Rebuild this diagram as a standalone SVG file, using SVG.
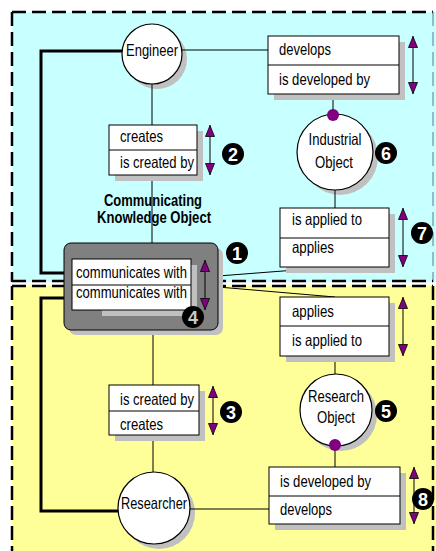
<svg xmlns="http://www.w3.org/2000/svg" width="436" height="551" viewBox="0 0 436 551">
  <style>
    .lbl{font-family:"Liberation Sans Narrow","Liberation Sans",Arial,sans-serif;font-size:16.5px;fill:#000}
    .bold{font-weight:bold}
    .box{fill:#fff;stroke:#000;stroke-width:1}
    .shd{fill:#c0c0c0}
    .div{stroke:#000;stroke-width:1}
    .circ{fill:#fff;stroke:#000;stroke-width:1.2}
    .con{fill:none;stroke:#000;stroke-width:1}
    .thick{fill:none;stroke:#000;stroke-width:3}
    .arr{stroke:#000;stroke-width:1;marker-start:url(#ah);marker-end:url(#ah)}
    .dot{fill:#800080}
    .numc{fill:#000}
    .numt{font-family:"Liberation Sans",Arial,sans-serif;font-size:18px;font-weight:bold;fill:#fff;text-anchor:middle}
    .dash{fill:none;stroke:#000;stroke-width:2.5;stroke-dasharray:14 6}
  </style>
  <defs>
    <marker id="ah" viewBox="0 0 12 10" refX="12" refY="5" markerWidth="12" markerHeight="10" markerUnits="userSpaceOnUse" orient="auto-start-reverse">
      <path d="M0.5,0.5 L11.5,5 L0.5,9.5 Z" fill="#800080" stroke="#000" stroke-width="0.8"/>
    </marker>
  </defs>

  <!-- background regions -->
  <g id="regions">
    <rect x="12" y="12" width="424" height="270" fill="#c8ffff"/>
    <rect x="12" y="286" width="424" height="265" fill="#ffff99"/>
    <line class="dash" x1="12" y1="12" x2="433" y2="12"/>
    <line class="dash" x1="12" y1="12" x2="12" y2="282"/>
    <line x1="433" y1="12" x2="433" y2="282" stroke="#607890" stroke-width="1" stroke-dasharray="14 6"/>
    <line class="dash" x1="12" y1="281" x2="433" y2="281"/>
    <line class="dash" x1="12" y1="286" x2="433" y2="286"/>
    <line class="dash" x1="12" y1="286" x2="12" y2="551"/>
    <line class="dash" x1="433" y1="286" x2="433" y2="551" stroke-width="3"/>
  </g>

  <!-- shadows -->
  <g id="shadows">
    <circle class="shd" cx="157" cy="59" r="30"/>
    <circle class="shd" cx="340" cy="157" r="38"/>
    <circle class="shd" cx="341" cy="415" r="36"/>
    <circle class="shd" cx="159" cy="513" r="36"/>
  </g>

  <!-- connectors -->
  <g id="connectors">
    <path class="thick" d="M72,273 H41 V51 H122"/>
    <path class="thick" d="M72,298 H41 V511 H118"/>
    <path class="con" d="M182,50 H268"/>
    <path class="con" d="M152,83 V125"/>
    <path class="con" d="M152,175 V243"/>
    <path class="con" d="M153,330 V385"/>
    <path class="con" d="M153,435 V472"/>
    <path class="con" d="M190,509 H269"/>
    <path class="con" d="M333,94 V115"/>
    <path class="con" d="M335,190 V208"/>
    <path class="con" d="M335,267 L218,276"/>
    <path class="con" d="M218,287 L335,297"/>
    <path class="con" d="M335,356 V374"/>
    <path class="con" d="M335,445 V467"/>
  </g>

  <!-- Engineer -->
  <g id="engineer">
    <circle class="circ" cx="152" cy="54" r="30"/>
    <text class="lbl" x="152" y="56" text-anchor="middle" textLength="52" lengthAdjust="spacingAndGlyphs">Engineer</text>
  </g>

  <!-- develops (top) -->
  <g id="develops-top">
    <rect class="shd" x="274" y="42" width="131" height="58"/>
    <rect class="box" x="268" y="36" width="131" height="58"/>
    <line class="div" x1="268" y1="65" x2="399" y2="65"/>
    <text class="lbl" x="279" y="55" textLength="52" lengthAdjust="spacingAndGlyphs">develops</text>
    <text class="lbl" x="279" y="85" textLength="91" lengthAdjust="spacingAndGlyphs">is developed by</text>
    <line class="arr" x1="413" y1="36" x2="413" y2="94"/>
  </g>

  <!-- creates (top) -->
  <g id="creates-top">
    <rect class="shd" x="115" y="131" width="88" height="50"/>
    <rect class="box" x="109" y="125" width="88" height="50"/>
    <line class="div" x1="109" y1="150" x2="197" y2="150"/>
    <text class="lbl" x="120" y="142" textLength="43" lengthAdjust="spacingAndGlyphs">creates</text>
    <text class="lbl" x="120" y="168" textLength="74" lengthAdjust="spacingAndGlyphs">is created by</text>
    <line class="arr" x1="210" y1="125" x2="210" y2="175"/>
  </g>

  <!-- Industrial Object -->
  <g id="industrial-object">
    <circle class="circ" cx="335" cy="152" r="38"/>
    <circle class="dot" cx="333" cy="115" r="6"/>
    <text class="lbl" x="335" y="145" text-anchor="middle" textLength="53" lengthAdjust="spacingAndGlyphs">Industrial</text>
    <text class="lbl" x="334" y="168" text-anchor="middle" textLength="38" lengthAdjust="spacingAndGlyphs">Object</text>
  </g>

  <!-- applied (top) -->
  <g id="applied-top">
    <rect class="shd" x="286" y="214" width="109" height="59"/>
    <rect class="box" x="280" y="208" width="109" height="59"/>
    <line class="div" x1="280" y1="238" x2="389" y2="238"/>
    <text class="lbl" x="292" y="225" textLength="70" lengthAdjust="spacingAndGlyphs">is applied to</text>
    <text class="lbl" x="292" y="253" textLength="42" lengthAdjust="spacingAndGlyphs">applies</text>
    <line class="arr" x1="403" y1="208" x2="403" y2="267"/>
  </g>

  <!-- Communicating Knowledge Object -->
  <g id="cko">
    <text class="lbl bold" x="153" y="206" text-anchor="middle" textLength="98" lengthAdjust="spacingAndGlyphs">Communicating</text>
    <text class="lbl bold" x="154" y="223" text-anchor="middle" textLength="114" lengthAdjust="spacingAndGlyphs">Knowledge Object</text>
    <rect class="shd" x="69" y="248" width="154" height="87" rx="7"/>
    <rect x="64" y="243" width="154" height="87" rx="7" fill="#808080" stroke="#000" stroke-width="1"/>
    <rect class="shd" x="102" y="265" width="95" height="51"/>
    <rect class="box" x="72" y="259" width="119" height="51"/>
    <line class="div" x1="72" y1="285" x2="191" y2="285"/>
    <text class="lbl" x="76" y="278" textLength="111" lengthAdjust="spacingAndGlyphs">communicates with</text>
    <text class="lbl" x="76" y="298" textLength="111" lengthAdjust="spacingAndGlyphs">communicates with</text>
    <line class="arr" x1="205" y1="260" x2="205" y2="310"/>
  </g>

  <!-- applies (bottom) -->
  <g id="applies-bottom">
    <rect class="shd" x="286" y="303" width="109" height="59"/>
    <rect class="box" x="280" y="297" width="109" height="59"/>
    <line class="div" x1="280" y1="326" x2="389" y2="326"/>
    <text class="lbl" x="292" y="317" textLength="42" lengthAdjust="spacingAndGlyphs">applies</text>
    <text class="lbl" x="292" y="346" textLength="70" lengthAdjust="spacingAndGlyphs">is applied to</text>
    <line class="arr" x1="403" y1="297" x2="403" y2="356"/>
  </g>

  <!-- Research Object -->
  <g id="research-object">
    <circle class="circ" cx="336" cy="410" r="36"/>
    <circle class="dot" cx="335" cy="445" r="6"/>
    <text class="lbl" x="336" y="402" text-anchor="middle" textLength="56" lengthAdjust="spacingAndGlyphs">Research</text>
    <text class="lbl" x="336" y="423" text-anchor="middle" textLength="38" lengthAdjust="spacingAndGlyphs">Object</text>
  </g>

  <!-- created (bottom) -->
  <g id="created-bottom">
    <rect class="shd" x="115" y="391" width="90" height="50"/>
    <rect class="box" x="109" y="385" width="90" height="50"/>
    <line class="div" x1="109" y1="411" x2="199" y2="411"/>
    <text class="lbl" x="120" y="405" textLength="74" lengthAdjust="spacingAndGlyphs">is created by</text>
    <text class="lbl" x="120" y="430" textLength="43" lengthAdjust="spacingAndGlyphs">creates</text>
    <line class="arr" x1="213" y1="386" x2="213" y2="435"/>
  </g>

  <!-- Researcher -->
  <g id="researcher">
    <circle class="circ" cx="154" cy="508" r="36"/>
    <text class="lbl" x="154" y="509" text-anchor="middle" textLength="66" lengthAdjust="spacingAndGlyphs">Researcher</text>
  </g>

  <!-- develops (bottom) -->
  <g id="develops-bottom">
    <rect class="shd" x="275" y="473" width="131" height="57"/>
    <rect class="box" x="269" y="467" width="131" height="57"/>
    <line class="div" x1="269" y1="496" x2="400" y2="496"/>
    <text class="lbl" x="280" y="487" textLength="91" lengthAdjust="spacingAndGlyphs">is developed by</text>
    <text class="lbl" x="280" y="515" textLength="52" lengthAdjust="spacingAndGlyphs">develops</text>
    <line class="arr" x1="414" y1="467" x2="414" y2="524"/>
  </g>

  <!-- numbered markers -->
  <g id="num1"><circle class="numc" cx="237" cy="253" r="11"/><text class="numt" x="237" y="259.5">1</text></g>
  <g id="num2"><circle class="numc" cx="233" cy="154" r="11"/><text class="numt" x="233" y="160.5">2</text></g>
  <g id="num3"><circle class="numc" cx="231" cy="412" r="11"/><text class="numt" x="231" y="418.5">3</text></g>
  <g id="num4"><circle class="numc" cx="193" cy="317" r="11"/><text class="numt" x="193" y="323.5" style="fill:#c8c8c8">4</text></g>
  <g id="num5"><circle class="numc" cx="386" cy="411" r="11"/><text class="numt" x="386" y="417.5">5</text></g>
  <g id="num6"><circle class="numc" cx="386" cy="153" r="11"/><text class="numt" x="386" y="159.5">6</text></g>
  <g id="num7"><circle class="numc" cx="422" cy="233" r="11"/><text class="numt" x="422" y="239.5">7</text></g>
  <g id="num8"><circle class="numc" cx="423" cy="499" r="11"/><text class="numt" x="423" y="505.5">8</text></g>
</svg>
